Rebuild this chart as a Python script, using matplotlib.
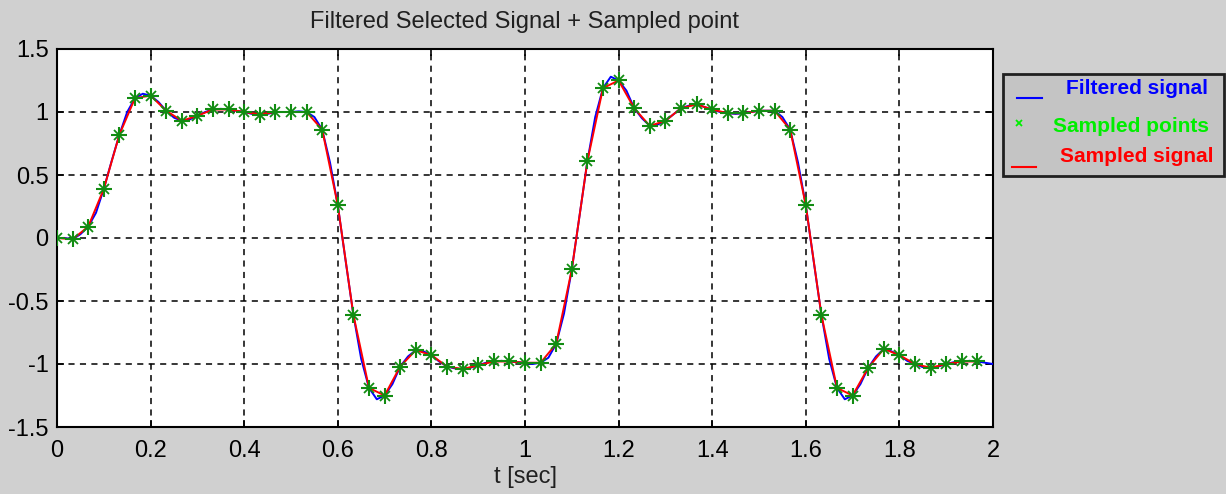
import matplotlib
matplotlib.use("Agg")
import matplotlib.pyplot as plt
from matplotlib.lines import Line2D
from matplotlib.patches import Rectangle
import numpy as np

plt.rcParams['font.family'] = ['Liberation Sans', 'DejaVu Sans']

# ---- data ----
sample_step = 1.0 / 30.0
sampled_values = [0.00, -0.01, 0.09, 0.39, 0.82, 1.11, 1.13, 1.01, 0.93, 0.97,
                  1.02, 1.02, 1.00, 0.98, 1.00, 1.00, 1.00, 0.86, 0.26, -0.61,
                  -1.19, -1.25, -1.02, -0.89, -0.93, -1.02, -1.04, -1.01, -0.98, -0.98,
                  -0.99, -0.99, -0.84, -0.25, 0.61, 1.19, 1.25, 1.03, 0.89, 0.93,
                  1.03, 1.06, 1.02, 0.99, 0.99, 1.01, 1.01, 0.86, 0.26, -0.61,
                  -1.19, -1.25, -1.03, -0.88, -0.93, -1.00, -1.03, -1.00, -0.98, -0.98]
# filtered signal between the sample instants (t = (2k+1)/60) and at t = 2
filtered_mid_values = [0.00, 0.03, 0.20, 0.61, 1.00, 1.145, 1.08, 0.955, 0.94, 1.00,
                       1.025, 1.01, 0.985, 0.985, 1.00, 1.005, 0.96, 0.60, -0.18, -0.96,
                       -1.28, -1.16, -0.94, -0.90, -0.98, -1.035, -1.03, -0.99, -0.975, -0.985,
                       -1.00, -0.95, -0.60, 0.18, 0.96, 1.28, 1.17, 0.95, 0.90, 0.98,
                       1.05, 1.04, 1.00, 0.985, 1.00, 1.01, 0.96, 0.60, -0.18, -0.96,
                       -1.28, -1.16, -0.94, -0.90, -0.975, -1.025, -1.02, -0.985, -0.975, -0.99]
filtered_end_value = -1.00

x_ticks = [0, 0.2, 0.4, 0.6, 0.8, 1, 1.2, 1.4, 1.6, 1.8, 2]
x_tick_labels = ["0", "0.2", "0.4", "0.6", "0.8", "1", "1.2", "1.4", "1.6", "1.8", "2"]
y_ticks = [-1.5, -1, -0.5, 0, 0.5, 1, 1.5]
y_tick_labels = ["-1.5", "-1", "-0.5", "0", "0.5", "1", "1.5"]

title_text = "Filtered Selected Signal + Sampled point"
xlabel_text = "t [sec]"
legend_labels = ["Filtered signal", "Sampled points", "Sampled signal"]

# ---- build series ----
t_s = np.arange(len(sampled_values)) * sample_step
t_f = []
v_f = []
for k, (vs, vm) in enumerate(zip(sampled_values, filtered_mid_values)):
    t_f += [k * sample_step, (k + 0.5) * sample_step]
    v_f += [vs, vm]
t_f.append(2.0)
v_f.append(filtered_end_value)

W, H = 1226, 494
bg = '#d0d0d0'
fig = plt.figure(figsize=(W / 100, H / 100), dpi=100, facecolor=bg)
ax = fig.add_axes([57 / W, 1 - 427 / H, (993 - 57) / W, (427 - 49) / H])
ax.set_facecolor('white')

ax.plot(t_f, v_f, color='#0000ff', lw=1.4, zorder=3)
ax.plot(t_s, sampled_values, color='#ff0000', lw=1.4, zorder=4)
ax.plot(t_s, sampled_values, ls='none', marker='+', ms=11, mew=1.5,
        color='#128c12', zorder=5)
ax.plot(t_s, sampled_values, ls='none', marker='x', ms=7, mew=1.3,
        color='#128c12', zorder=5)

ax.set_xlim(0, 2)
ax.set_ylim(-1.5, 1.5)
ax.set_xticks(x_ticks)
ax.set_xticklabels(x_tick_labels)
ax.set_yticks(y_ticks)
ax.set_yticklabels(y_tick_labels)
ax.tick_params(direction='in', length=5, width=1.2, top=True, right=True,
               labelsize=17, colors='black', pad=6)
ax.tick_params(axis='x', pad=9)
ax.grid(True, color='black', ls=(0, (4, 3.5)), lw=1.1)
for s in ax.spines.values():
    s.set_linewidth(1.5)
    s.set_color('black')
ax.set_axisbelow(False)

fig.text(0.5 * (57 + 993) / W, 1 - 22 / H, title_text, ha='center', va='center',
         fontsize=17, color='#202020')
fig.text(0.5 * (57 + 993) / W, 1 - 477 / H, xlabel_text, ha='center', va='center',
         fontsize=17, color='#202020')

# ---- legend drawn manually ----
lx0, ly0, lx1, ly1 = 1003, 74, 1224, 176
fig.add_artist(Rectangle((lx0 / W, 1 - ly1 / H), (lx1 - lx0) / W, (ly1 - ly0) / H,
                         transform=fig.transFigure, facecolor='#c4c4c4',
                         edgecolor='#202020', lw=2.0))
fig.add_artist(Line2D([1017 / W, 1042 / W], [1 - 98 / H, 1 - 98 / H],
                      transform=fig.transFigure, color='#0000ff', lw=1.5))
fig.add_artist(Line2D([1019 / W], [1 - 123 / H], transform=fig.transFigure,
                      marker='x', ms=4, mew=1.3, color='#00ee00', ls='none'))
fig.add_artist(Line2D([1012 / W, 1036 / W], [1 - 167 / H, 1 - 167 / H],
                      transform=fig.transFigure, color='#ff0000', lw=1.5))
fig.text(1066 / W, 1 - 88 / H, legend_labels[0], ha='left', va='center',
         fontsize=15, fontweight='bold', color='#0000ff')
fig.text(1053 / W, 1 - 127 / H, legend_labels[1], ha='left', va='center',
         fontsize=15, fontweight='bold', color='#00ee00')
fig.text(1060 / W, 1 - 157 / H, legend_labels[2], ha='left', va='center',
         fontsize=15, fontweight='bold', color='#ff0000')

fig.savefig('out.png', dpi=100, facecolor=bg)
